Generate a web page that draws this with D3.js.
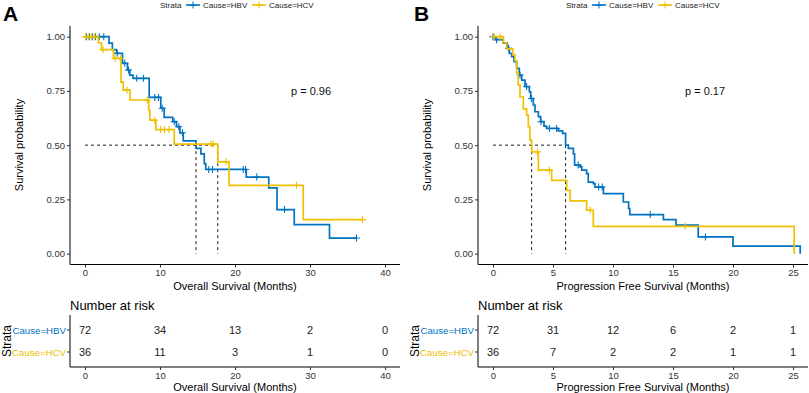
<!DOCTYPE html>
<html>
<head>
<meta charset="utf-8">
<script src="https://cdn.jsdelivr.net/npm/d3@7"></script>
<style>
  body { margin: 0; background: #fff; }
  svg { font-family: "Liberation Sans", Arial, sans-serif; }
</style>
</head>
<body>
<svg id="chart" width="809" height="393"></svg>
<script>
// ---- data ----
const strata = ["Cause=HBV", "Cause=HCV"];
const colors = ["#0073C2", "#EFC000"];

// A: overall survival
const osHbvTime = [0, 3.2, 3.65, 4.2, 5.0, 5.66, 5.97, 6.4, 8.56, 10.1, 10.56, 11.7, 12.2, 12.66, 13.1, 14.8, 15.45, 15.9, 16.1, 21.5, 24.5, 25.6, 27.9, 32.6, 36.2];
const osHbvSurv = [1, 0.97, 0.94, 0.923, 0.877, 0.846, 0.823, 0.808, 0.72, 0.67, 0.628, 0.608, 0.585, 0.557, 0.52, 0.485, 0.46, 0.415, 0.388, 0.353, 0.303, 0.203, 0.134, 0.072, 0.072];
const osHbvCens = [0.2, 0.6, 1.0, 1.4, 1.9, 2.5, 4.3, 5.3, 5.8, 6.9, 7.8, 9.3, 9.8, 10.3, 11.9, 12.5, 13.0, 16.5, 17.0, 21.1, 21.4, 22.9, 26.6, 36.2];
const osHcvTime = [0, 1.78, 2.2, 3.8, 4.8, 5.1, 6.0, 8.5, 8.65, 9.45, 11.9, 17.7, 19.2, 29.1, 37.0];
const osHcvSurv = [1, 0.972, 0.94, 0.9, 0.79, 0.754, 0.708, 0.66, 0.615, 0.572, 0.505, 0.423, 0.315, 0.157, 0.157];
const osHcvCens = [0.1, 0.5, 0.9, 1.3, 2.4, 4.0, 4.7, 5.6, 8.3, 9.3, 10.1, 10.6, 11.2, 16.8, 17.1, 18.8, 28.2, 37.0];
const osTicks = [0, 10, 20, 30, 40];
const osRiskHbv = [72, 34, 13, 2, 0];
const osRiskHcv = [36, 11, 3, 1, 0];

// B: progression free survival
const pfsHbvTime = [0, 0.17, 0.86, 1.19, 1.36, 1.56, 1.75, 1.97, 2.19, 2.39, 2.67, 3.03, 3.14, 3.36, 3.5, 3.78, 3.97, 4.25, 4.47, 5.44, 5.8, 6.05, 6.28, 6.7, 6.8, 7.25, 7.4, 7.8, 7.94, 8.36, 8.5, 9.2, 10.86, 11.3, 11.4, 14.2, 15.25, 17.1, 20.0, 25.6];
const pfsHbvSurv = [1, 0.986, 0.97, 0.946, 0.923, 0.908, 0.885, 0.854, 0.823, 0.8, 0.77, 0.746, 0.715, 0.685, 0.654, 0.631, 0.608, 0.588, 0.577, 0.566, 0.554, 0.5, 0.485, 0.46, 0.408, 0.4, 0.385, 0.369, 0.33, 0.323, 0.307, 0.277, 0.238, 0.208, 0.18, 0.157, 0.131, 0.077, 0.035, 0];
const pfsHbvCens = [0.0, 0.3, 1.3, 2.25, 2.8, 3.2, 4.0, 4.7, 5.3, 7.1, 8.8, 9.1, 13.1, 17.7];
const pfsHcvTime = [0, 0.86, 1.14, 1.64, 1.83, 1.97, 2.1, 2.25, 2.53, 2.8, 2.94, 3.08, 3.22, 3.78, 4.89, 6.14, 6.42, 7.8, 8.36, 25.1];
const pfsHcvSurv = [1, 0.972, 0.944, 0.917, 0.889, 0.833, 0.778, 0.722, 0.667, 0.638, 0.585, 0.523, 0.469, 0.385, 0.338, 0.292, 0.243, 0.2, 0.126, 0];
const pfsHcvCens = [0.1, 0.6, 3.7, 4.7, 8.1, 16.0];
const pfsTicks = [0, 5, 10, 15, 20, 25];
const pfsRiskHbv = [72, 31, 12, 6, 2, 1];
const pfsRiskHcv = [36, 7, 2, 2, 1, 1];

const survTicks = [0, 0.25, 0.5, 0.75, 1];

const svg = d3.select("#chart");

function survAt(times, surv, t) {
  let s = surv[0];
  for (let i = 0; i < times.length; i++) {
    if (times[i] <= t) s = surv[i];
  }
  return s;
}

function medianOf(times, surv) {
  for (let i = 0; i < times.length; i++) {
    if (surv[i] <= 0.5) return times[i];
  }
  return null;
}

function drawPanel(p) {
  const g = svg.append("g");
  const x = d3.scaleLinear().domain(p.xDomain).range([p.left, p.right]);
  const y = d3.scaleLinear().domain([-0.05, 1.05]).range([264.5, 25.8]);

  // panel letter
  g.append("text")
    .attr("x", p.letterX)
    .attr("y", 21)
    .style("font-size", "21px")
    .style("font-weight", "bold")
    .text(p.letter);

  // legend
  const leg = g.append("g").attr("transform", "translate(" + p.legendX + ",5)");
  leg.append("text").attr("x", 0).attr("y", 3).style("font-size", "8px").attr("fill", "#222").text("Strata");
  let lx = 26;
  strata.forEach(function (s, i) {
    leg.append("line").attr("x1", lx).attr("x2", lx + 14).attr("y1", 0).attr("y2", 0)
      .attr("stroke", colors[i]).attr("stroke-width", 1.6);
    leg.append("path").attr("d", "M" + (lx + 7) + ",-3.5V3.5M" + (lx + 3.5) + ",0H" + (lx + 10.5))
      .attr("stroke", colors[i]).attr("stroke-width", 1);
    leg.append("text").attr("x", lx + 17).attr("y", 3).style("font-size", "8px").attr("fill", "#222").text(s);
    lx += 66;
  });

  // axes
  const xAxis = g.append("g")
    .attr("transform", "translate(0,264.5)")
    .call(d3.axisBottom(x).tickValues(p.ticks).tickSize(3).tickPadding(2).tickFormat(d3.format("d")));
  const yAxis = g.append("g")
    .attr("transform", "translate(" + p.left + ",0)")
    .call(d3.axisLeft(y).tickValues(survTicks).tickSize(3).tickPadding(2).tickFormat(d3.format(".2f")));
  [xAxis, yAxis].forEach(function (a) {
    a.select(".domain").remove();
    a.selectAll(".tick line").attr("stroke", "#333");
    a.selectAll(".tick text").attr("fill", "#333").style("font-size", "9.5px");
  });
  g.append("line").attr("x1", p.left).attr("x2", p.right).attr("y1", 264.5).attr("y2", 264.5).attr("stroke", "#000");
  g.append("line").attr("x1", p.left).attr("x2", p.left).attr("y1", 25.8).attr("y2", 264.5).attr("stroke", "#000");

  g.append("text")
    .attr("transform", "translate(" + (p.left - 47) + ",145) rotate(-90)")
    .attr("text-anchor", "middle")
    .style("font-size", "11px")
    .text("Survival probability");
  g.append("text")
    .attr("x", (x(0) + x(p.ticks[p.ticks.length - 1])) / 2)
    .attr("y", 290)
    .attr("text-anchor", "middle")
    .style("font-size", "11px")
    .text(p.xTitle);

  // median lines
  const meds = p.series.map(function (s) { return medianOf(s.time, s.surv); });
  const maxMed = d3.max(meds);
  g.append("line")
    .attr("x1", x(0)).attr("x2", x(maxMed)).attr("y1", y(0.5)).attr("y2", y(0.5))
    .attr("stroke", "#000").attr("stroke-width", 0.9).attr("stroke-dasharray", "3,3");
  meds.forEach(function (m) {
    g.append("line")
      .attr("x1", x(m)).attr("x2", x(m)).attr("y1", y(0.5)).attr("y2", y(0))
      .attr("stroke", "#000").attr("stroke-width", 0.9).attr("stroke-dasharray", "3,3");
  });

  // curves
  const line = d3.line().curve(d3.curveStepAfter)
    .x(function (d) { return x(d[0]); })
    .y(function (d) { return y(d[1]); });
  p.series.forEach(function (s, i) {
    const pts = s.time.map(function (t, j) { return [t, s.surv[j]]; });
    g.append("path").datum(pts)
      .attr("fill", "none")
      .attr("stroke", colors[i])
      .attr("stroke-width", 1.7)
      .attr("d", line);
    g.append("g").selectAll("path")
      .data(s.cens)
      .enter()
      .append("path")
      .attr("d", function (t) {
        const cx = x(t), cy = y(survAt(s.time, s.surv, t));
        return "M" + cx + "," + (cy - 3.5) + "V" + (cy + 3.5) + "M" + (cx - 3.5) + "," + cy + "H" + (cx + 3.5);
      })
      .attr("stroke", colors[i])
      .attr("stroke-width", 1.1);
  });

  g.append("text")
    .attr("x", p.pX).attr("y", 95)
    .style("font-size", "11px")
    .attr("fill", "#111")
    .text(p.pText);

  // number at risk table
  g.append("text").attr("x", p.left).attr("y", 310).style("font-size", "13px").text("Number at risk");
  const rowY = [330, 352];
  g.append("line").attr("x1", p.left).attr("x2", p.left).attr("y1", 315).attr("y2", 367).attr("stroke", "#000");
  g.append("line").attr("x1", p.left).attr("x2", p.right).attr("y1", 367).attr("y2", 367).attr("stroke", "#000");
  strata.forEach(function (s, i) {
    g.append("line").attr("x1", p.left - 3).attr("x2", p.left).attr("y1", rowY[i]).attr("y2", rowY[i]).attr("stroke", "#333");
    g.append("text").attr("x", p.left - 4).attr("y", rowY[i] + 3.5)
      .attr("text-anchor", "end").style("font-size", "9.7px").attr("fill", colors[i]).text(s);
    g.append("g").selectAll("text")
      .data(p.risk[i])
      .enter()
      .append("text")
      .attr("x", function (d, j) { return x(p.ticks[j]); })
      .attr("y", rowY[i] + 4)
      .attr("text-anchor", "middle")
      .style("font-size", "11px")
      .attr("fill", "#222")
      .text(function (d) { return d; });
  });
  g.append("text")
    .attr("transform", "translate(" + (p.left - 59) + ",341) rotate(-90)")
    .attr("text-anchor", "middle")
    .style("font-size", "12px")
    .text("Strata");
  const tAxis = g.append("g")
    .attr("transform", "translate(0,367)")
    .call(d3.axisBottom(x).tickValues(p.ticks).tickSize(3).tickPadding(2).tickFormat(d3.format("d")));
  tAxis.select(".domain").remove();
  tAxis.selectAll(".tick line").attr("stroke", "#333");
  tAxis.selectAll(".tick text").attr("fill", "#333").style("font-size", "9.5px");
  g.append("text")
    .attr("x", (x(0) + x(p.ticks[p.ticks.length - 1])) / 2)
    .attr("y", 391)
    .attr("text-anchor", "middle")
    .style("font-size", "11px")
    .text(p.xTitle);
}

drawPanel({
  letter: "A", letterX: 3, legendX: 160,
  left: 70, right: 400, xDomain: [-2, 42], ticks: osTicks,
  xTitle: "Overall Survival (Months)",
  pText: "p = 0.96", pX: 291,
  series: [
    { time: osHbvTime, surv: osHbvSurv, cens: osHbvCens },
    { time: osHcvTime, surv: osHcvSurv, cens: osHcvCens }
  ],
  risk: [osRiskHbv, osRiskHcv]
});

drawPanel({
  letter: "B", letterX: 414, legendX: 566,
  left: 478, right: 808, xDomain: [-1.25, 26.25], ticks: pfsTicks,
  xTitle: "Progression Free Survival (Months)",
  pText: "p = 0.17", pX: 685,
  series: [
    { time: pfsHbvTime, surv: pfsHbvSurv, cens: pfsHbvCens },
    { time: pfsHcvTime, surv: pfsHcvSurv, cens: pfsHcvCens }
  ],
  risk: [pfsRiskHbv, pfsRiskHcv]
});
</script>
</body>
</html>
